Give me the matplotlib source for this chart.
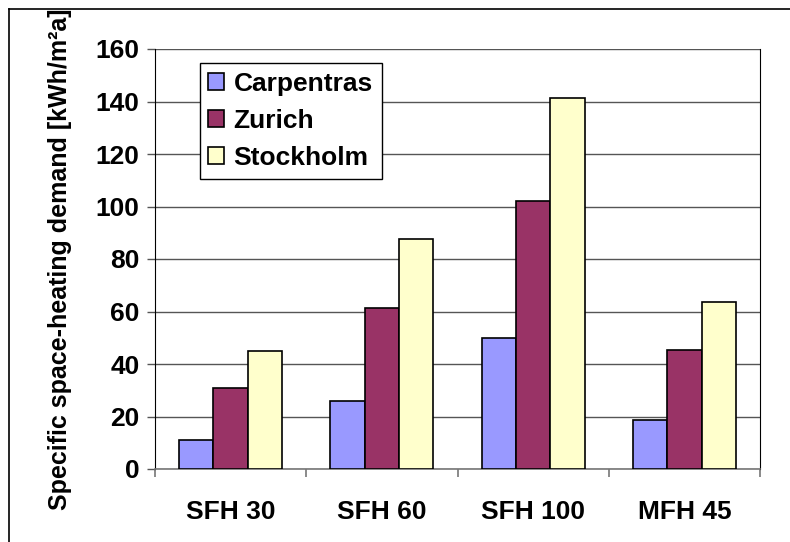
import numpy as np
import matplotlib
matplotlib.use("Agg")
import matplotlib.pyplot as plt
from matplotlib.lines import Line2D

plt.rcParams['font.family'] = ['Liberation Sans', 'DejaVu Sans']
plt.rcParams['font.weight'] = 'bold'

categories = ["SFH 30", "SFH 60", "SFH 100", "MFH 45"]
carpentras = [11.2, 25.8, 50.0, 18.8]
zurich = [30.9, 61.2, 102.0, 45.3]
stockholm = [45.0, 87.6, 141.2, 63.8]
series_names = ["Carpentras", "Zurich", "Stockholm"]
colors = ["#9999FF", "#993366", "#FFFFCC"]

fig = plt.figure(figsize=(7.9, 5.42), dpi=100)
ax = fig.add_axes([155 / 790, 73 / 542, 605 / 790, 420 / 542])

x = np.arange(len(categories))
w = 0.227
for i, (vals, name, c) in enumerate(zip([carpentras, zurich, stockholm], series_names, colors)):
    ax.bar(x + (i - 1) * w, vals, w, color=c, edgecolor="black", linewidth=1.2,
           label=name, zorder=3)

ax.set_xlim(-0.5, len(categories) - 0.5)
ax.set_ylim(0, 160)
ax.set_yticks(np.arange(0, 161, 20))
ax.yaxis.grid(True, color="#555555", linewidth=1, zorder=0)
ax.set_axisbelow(True)

# category labels between boundary ticks
ax.set_xticks(x)
ax.set_xticklabels(categories, fontsize=19, fontweight="bold")
ax.tick_params(axis="x", which="major", length=0, pad=22)
ax.set_xticks(np.arange(-0.5, len(categories)), minor=True)
ax.tick_params(axis="x", which="minor", length=6, width=1.2, color="#777777", direction="out")
ax.tick_params(axis="y", length=6, width=1, color="#555555", direction="out", pad=5, labelsize=19)
for lab in ax.get_yticklabels():
    lab.set_fontweight("bold")

ax.spines["top"].set_visible(False)
ax.spines["left"].set_color("black")
ax.spines["right"].set_color("black")
ax.spines["bottom"].set_color("#777777")
ax.spines["bottom"].set_linewidth(1.2)

ax.set_ylabel("Specific space-heating demand [kWh/m²a]", fontsize=18, fontweight="bold")
ax.yaxis.set_label_coords(-0.137, 0.5)

leg = ax.legend(loc="upper left", bbox_to_anchor=(0.074, 0.967), borderaxespad=0,
                fancybox=False, edgecolor="black", framealpha=1, fontsize=19,
                handlelength=0.6, handleheight=0.6, handletextpad=0.35,
                labelspacing=0.5, borderpad=0.33)
leg.get_frame().set_linewidth(1.0)
leg.set_zorder(5)

# chart border (left and top edges visible)
fig.add_artist(Line2D([8.5 / 790, 8.5 / 790], [0, 1 - 9 / 542], color="black", linewidth=1.2))
fig.add_artist(Line2D([8.5 / 790, 1], [1 - 9 / 542, 1 - 9 / 542], color="black", linewidth=1.2))

fig.savefig("out.png", dpi=100)
